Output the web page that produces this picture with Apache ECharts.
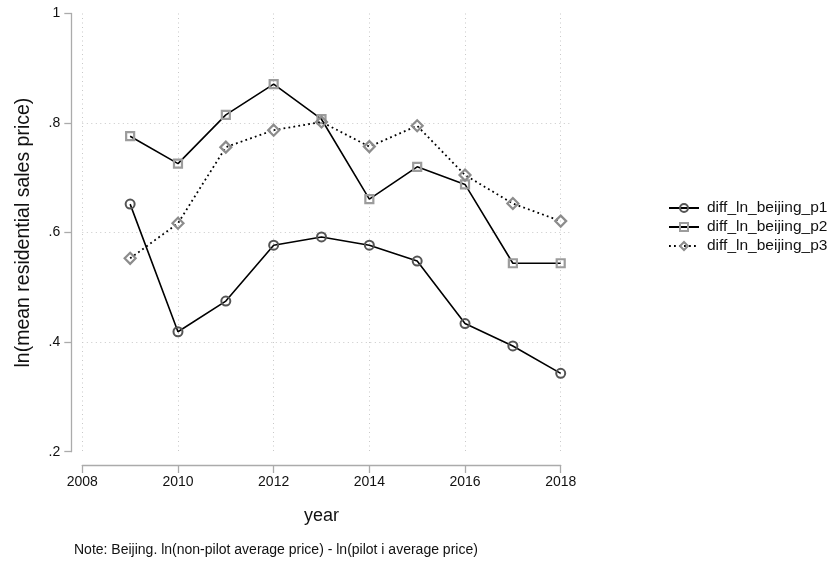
<!DOCTYPE html>
<html>
<head>
<meta charset="utf-8">
<script src="https://cdn.jsdelivr.net/npm/echarts@6/dist/echarts.min.js"></script>
<style>
  html, body { margin: 0; padding: 0; background: #fff; }
  #chart { width: 834px; height: 562px; }
</style>
</head>
<body>
<div id="chart"></div>
<script>
// Price gap between non-pilot and pilot districts in Beijing, by year
const years = [2009, 2010, 2011, 2012, 2013, 2014, 2015, 2016, 2017, 2018];
const diffP1 = [0.652, 0.419, 0.475, 0.577, 0.592, 0.577, 0.548, 0.434, 0.393, 0.343];
const diffP2 = [0.776, 0.726, 0.815, 0.871, 0.807, 0.661, 0.720, 0.688, 0.544, 0.544];
const diffP3 = [0.553, 0.617, 0.756, 0.787, 0.802, 0.757, 0.795, 0.705, 0.653, 0.621];
const seriesNames = ['diff_ln_beijing_p1', 'diff_ln_beijing_p2', 'diff_ln_beijing_p3'];
const yTicks = [0.2, 0.4, 0.6, 0.8, 1];
const xTicks = [2008, 2010, 2012, 2014, 2016, 2018];

const FONT = '"Liberation Sans", Arial, Helvetica, sans-serif';
const TEXT = '#111';
const AXIS = '#ababab';
const GRID = '#c8c8c8';

// plot frame (pixels)
const plotLeft = 82.3, plotTop = 13.5, plotBottom = 451.7;
const axisRight = 560.7;   // where the last year sits
const gridRight = 571.7;   // gridlines run a little past it
const W = 834, H = 562;

const xMin = xTicks[0], xMax = xTicks[xTicks.length - 1];
const xMaxGrid = xMin + (xMax - xMin) * (gridRight - plotLeft) / (axisRight - plotLeft);

const pairs = arr => years.map((y, i) => [y, arr[i]]);
const trimZero = v => String(v).replace(/^0\./, '.');

const chart = echarts.init(document.getElementById('chart'), null, { renderer: 'canvas' });

chart.setOption({
  animation: false,
  backgroundColor: '#fff',
  textStyle: { fontFamily: FONT, color: TEXT },
  title: {
    text: 'Note: Beijing. ln(non-pilot average price) - ln(pilot i average price)',
    left: 69, top: 538,
    textStyle: { fontFamily: FONT, fontSize: 14, fontWeight: 'normal', color: TEXT }
  },
  legend: {
    orient: 'vertical',
    left: 663, top: 195,
    itemWidth: 30, itemHeight: 10, itemGap: 3,
    textStyle: { fontFamily: FONT, fontSize: 15.5, color: TEXT, padding: [0, 0, 0, 3] },
    data: seriesNames
  },
  grid: [
    // background gridlines (wider than the axis range)
    { left: plotLeft, right: W - gridRight, top: plotTop, bottom: H - plotBottom, containLabel: false },
    // data area
    { left: plotLeft, right: W - axisRight, top: plotTop, bottom: H - plotBottom, containLabel: false }
  ],
  xAxis: [
    {
      gridIndex: 0, type: 'value', min: xMin, max: xMaxGrid, interval: 2,
      axisLine: { show: false }, axisTick: { show: false }, axisLabel: { show: false },
      splitLine: { show: true, showMinLine: true, showMaxLine: false,
        lineStyle: { color: GRID, type: [1, 3.5], width: 1 } }
    },
    {
      gridIndex: 1, type: 'value', min: xMin, max: xMax, interval: 2,
      offset: 13.3,
      name: 'year', nameLocation: 'middle', nameGap: 42,
      nameTextStyle: { fontFamily: FONT, fontSize: 18, color: TEXT },
      axisLine: { show: true, lineStyle: { color: AXIS, width: 1.3 } },
      axisTick: { show: true, length: 8, lineStyle: { color: AXIS, width: 1.3 } },
      axisLabel: { show: true, margin: 10, fontSize: 14, fontFamily: FONT, color: TEXT,
        formatter: v => String(v) },
      splitLine: { show: false }
    }
  ],
  yAxis: [
    {
      gridIndex: 0, type: 'value', min: yTicks[0], max: yTicks[yTicks.length - 1], interval: 0.2,
      axisLine: { show: false }, axisTick: { show: false }, axisLabel: { show: false },
      splitLine: { show: true, showMinLine: false, showMaxLine: false,
        lineStyle: { color: GRID, type: [1, 3.5], width: 1 } }
    },
    {
      gridIndex: 1, type: 'value', min: yTicks[0], max: yTicks[yTicks.length - 1], interval: 0.2,
      offset: 11,
      name: 'ln(mean residential sales price)', nameLocation: 'middle', nameGap: 38,
      nameTextStyle: { fontFamily: FONT, fontSize: 19.5, color: TEXT },
      axisLine: { show: true, lineStyle: { color: AXIS, width: 1.3 } },
      axisTick: { show: true, length: 7, lineStyle: { color: AXIS, width: 1.3 } },
      axisLabel: { show: true, margin: 11, fontSize: 14, fontFamily: FONT, color: TEXT,
        formatter: v => trimZero(+v.toFixed(1)) },
      splitLine: { show: false }
    }
  ],
  series: [
    {
      name: seriesNames[0], type: 'line', xAxisIndex: 1, yAxisIndex: 1,
      data: pairs(diffP1),
      symbol: 'circle', symbolSize: 9,
      itemStyle: { color: 'rgba(255,255,255,0)', borderColor: '#555', borderWidth: 2 },
      lineStyle: { color: '#000', width: 1.6 },
      z: 3
    },
    {
      name: seriesNames[1], type: 'line', xAxisIndex: 1, yAxisIndex: 1,
      data: pairs(diffP2),
      symbol: 'rect', symbolSize: 8,
      itemStyle: { color: 'rgba(255,255,255,0)', borderColor: '#9c9c9c', borderWidth: 2.2 },
      lineStyle: { color: '#000', width: 1.6 },
      z: 4
    },
    {
      name: seriesNames[2], type: 'line', xAxisIndex: 1, yAxisIndex: 1,
      data: pairs(diffP3),
      symbol: 'diamond', symbolSize: 11,
      itemStyle: { color: 'rgba(255,255,255,0)', borderColor: '#8c8c8c', borderWidth: 2.2 },
      lineStyle: { color: '#000', width: 1.8, type: [1.8, 3.2] },
      z: 5
    }
  ]
});
</script>
</body>
</html>
